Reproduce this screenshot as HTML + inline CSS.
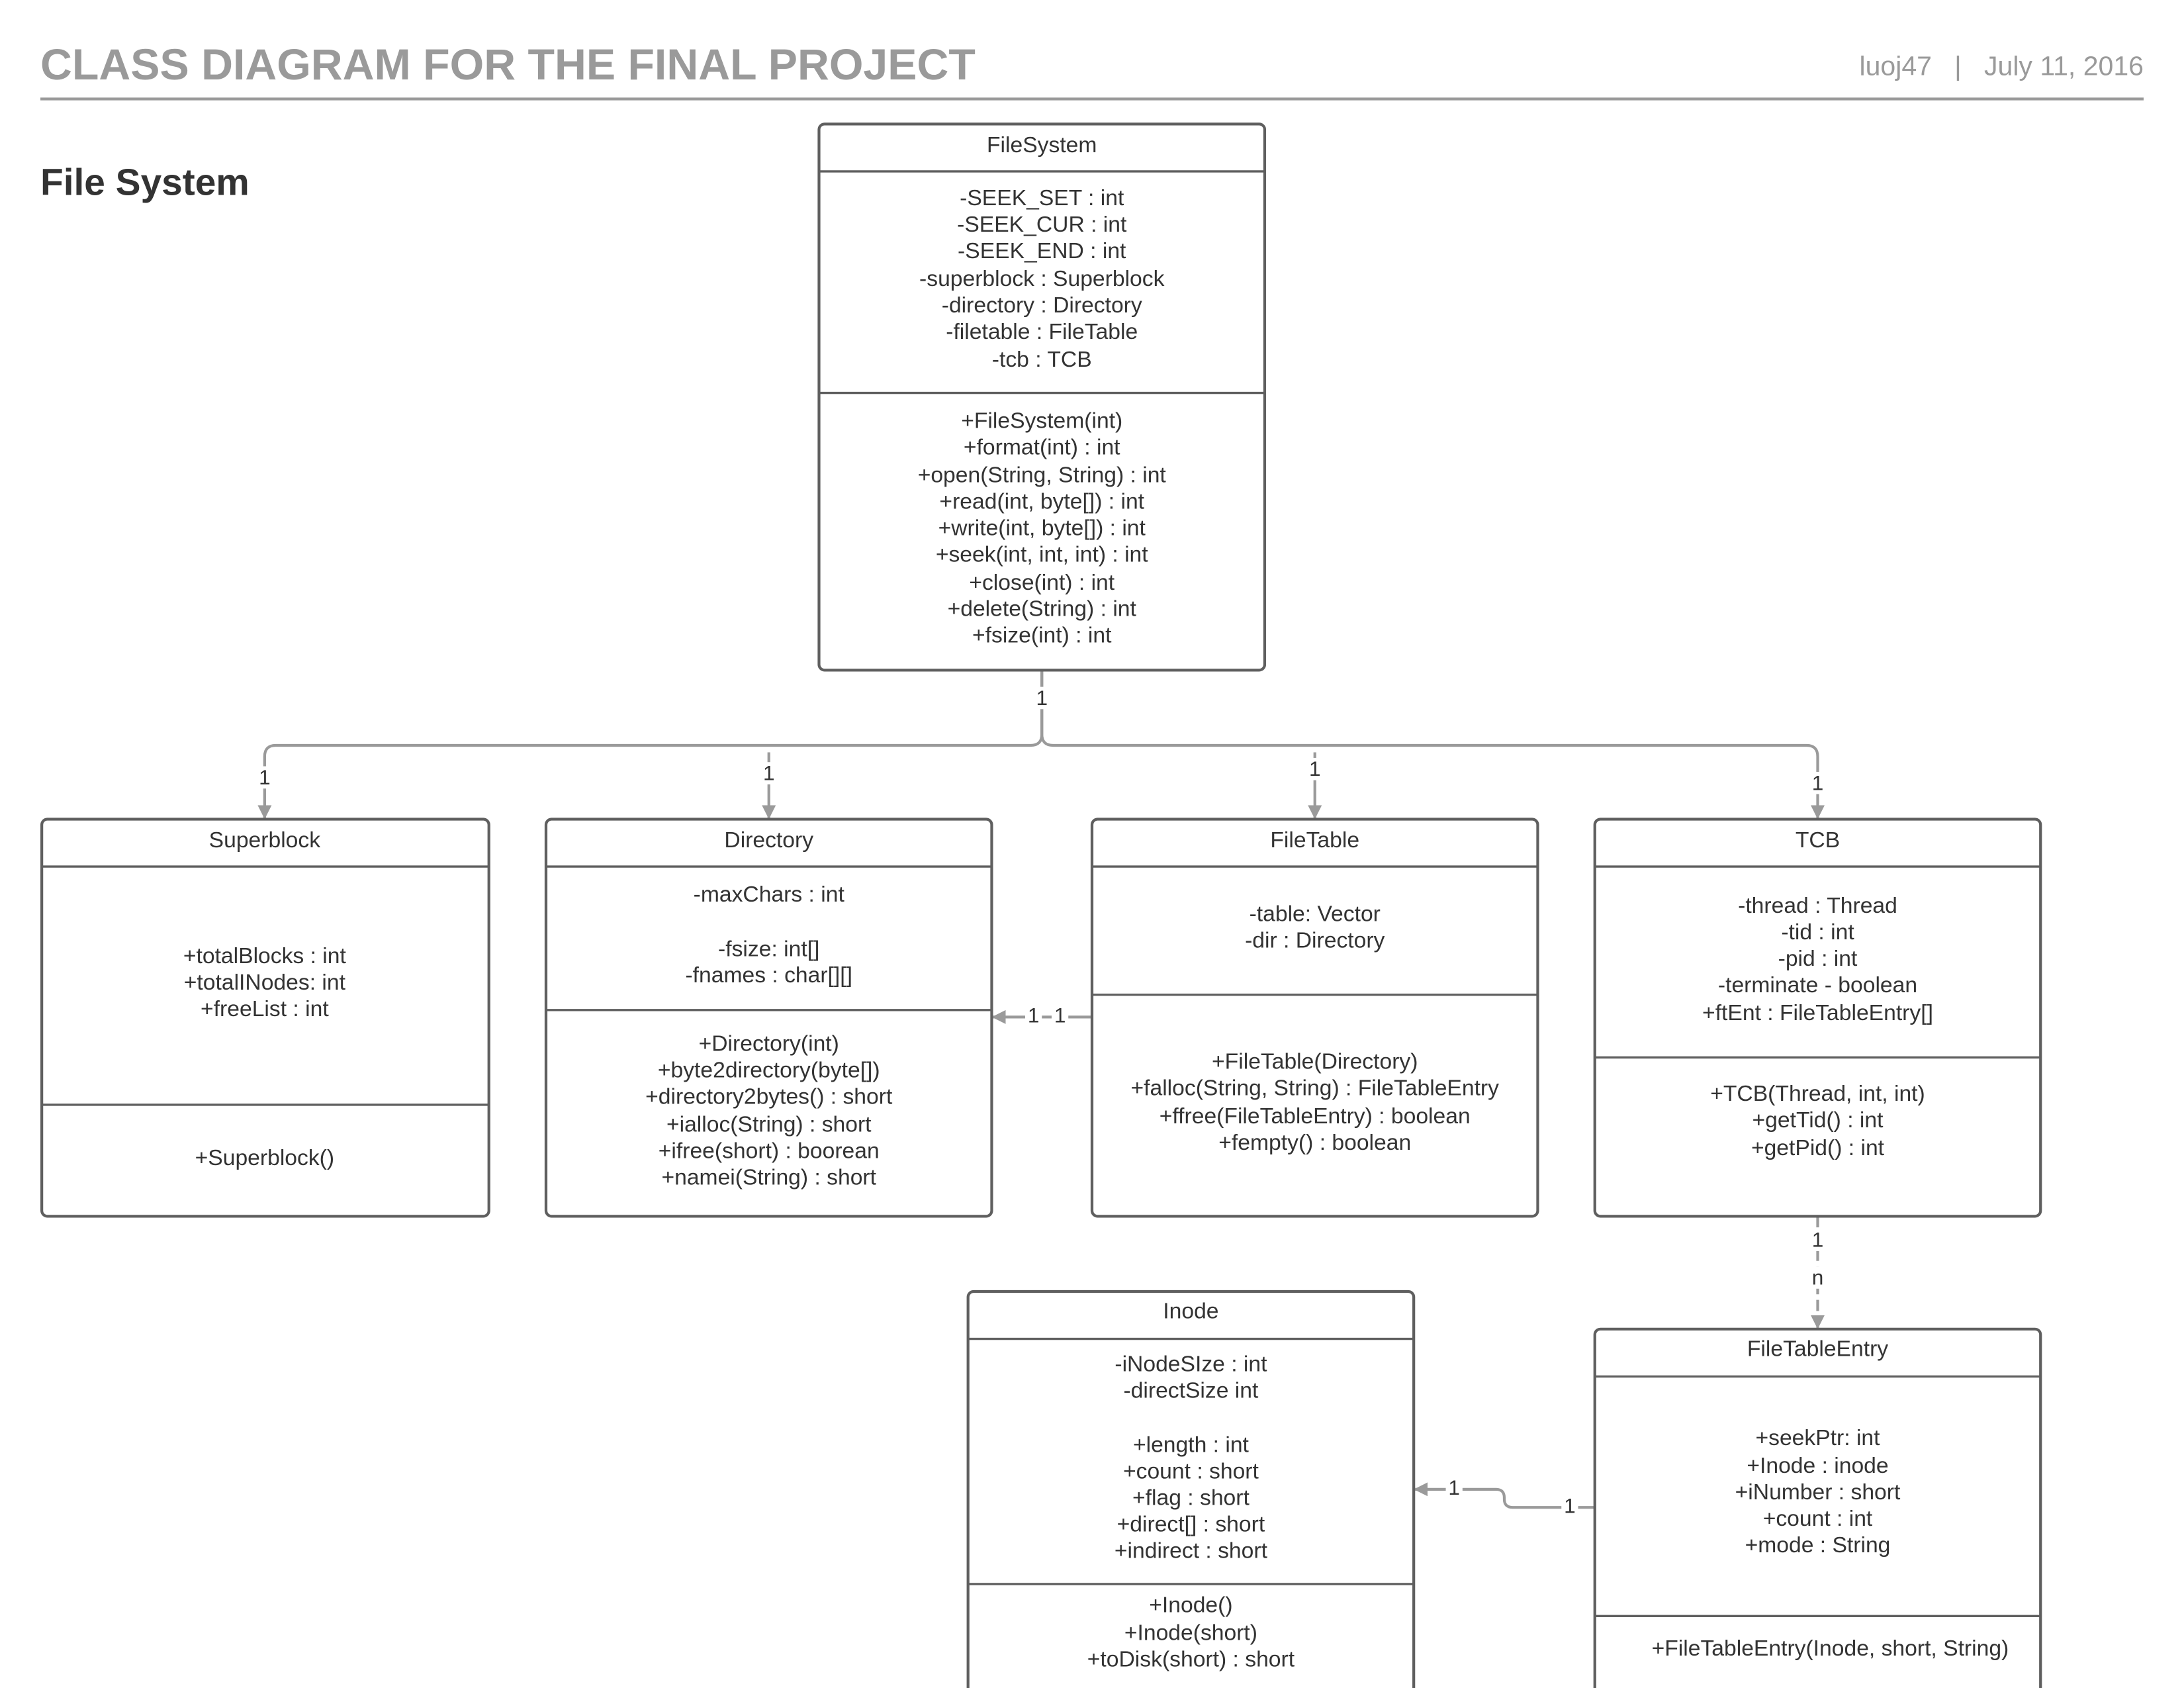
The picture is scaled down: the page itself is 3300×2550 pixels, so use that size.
<!DOCTYPE html>
<html><head><meta charset="utf-8"><style>
html,body{margin:0;padding:0;background:#fff;}
svg{display:block;}
text{font-family:"Liberation Sans",sans-serif;}
.t{font-size:16px;fill:#333;text-anchor:middle;dominant-baseline:middle;}
.b{fill:#fff;stroke:#5f5f5f;stroke-width:2;}
.l{stroke:#5f5f5f;stroke-width:1.6;}
.c{fill:none;stroke:#9a9a9a;stroke-width:2;}
.lab{font-size:15px;fill:#333;text-anchor:middle;dominant-baseline:middle;}
</style></head><body>
<svg width="3300" height="2550" viewBox="0 0 1568 1211.6" xmlns="http://www.w3.org/2000/svg">
<defs><marker id="a" markerWidth="10" markerHeight="10" refX="9" refY="5" orient="auto" markerUnits="userSpaceOnUse"><path d="M0,0 L10,5 L0,10 z" fill="#9a9a9a"/></marker></defs>
<text x="29" y="57" style="font-size:31.5px;font-weight:bold;fill:#9a9a9a;">CLASS DIAGRAM FOR THE FINAL PROJECT</text>
<text x="1539" y="54" style="font-size:19.5px;fill:#9a9a9a;text-anchor:end;">luoj47 &#160;&#160;| &#160;&#160;July 11, 2016</text>
<line x1="29" y1="71" x2="1539" y2="71" stroke="#9a9a9a" stroke-width="2"/>
<text x="29" y="140" style="font-size:27px;font-weight:bold;fill:#333;">File System</text>

<path class="c" d="M748,481 V527 Q748,535 740,535 H198 Q190,535 190,543 V587" marker-end="url(#a)"/>
<path class="c" d="M748,481 V527 Q748,535 756,535 H1297 Q1305,535 1305,543 V587" marker-end="url(#a)"/>
<path class="c" d="M552,540 V587" marker-end="url(#a)"/>
<path class="c" d="M944,540 V587" marker-end="url(#a)"/>
<path class="c" d="M784,730 H713" marker-end="url(#a)"/>
<path class="c" d="M1305,873 V953" stroke-dasharray="8,4" marker-end="url(#a)"/>
<path class="c" d="M1145,1082 H1086 Q1080,1082 1080,1076 V1075 Q1080,1069 1074,1069 H1016" marker-end="url(#a)"/>
<g class="lab">
<rect x="742" y="493" width="12" height="16" fill="#fff"/><text x="748" y="502">1</text>
<rect x="184" y="550" width="12" height="16" fill="#fff"/><text x="190" y="559">1</text>
<rect x="546" y="547" width="12" height="16" fill="#fff"/><text x="552" y="556">1</text>
<rect x="938" y="544" width="12" height="16" fill="#fff"/><text x="944" y="553">1</text>
<rect x="1299" y="554" width="12" height="16" fill="#fff"/><text x="1305" y="563">1</text>
<rect x="736" y="722" width="12" height="16" fill="#fff"/><text x="742" y="730">1</text>
<rect x="755" y="722" width="12" height="16" fill="#fff"/><text x="761" y="730">1</text>
<rect x="1299" y="882" width="12" height="16" fill="#fff"/><text x="1305" y="891">1</text>
<rect x="1299" y="909" width="12" height="16" fill="#fff"/><text x="1305" y="918">n</text>
<rect x="1121" y="1073" width="12" height="16" fill="#fff"/><text x="1127" y="1082">1</text>
<rect x="1038" y="1060" width="12" height="16" fill="#fff"/><text x="1044" y="1069">1</text>
</g>

<rect class="b" x="588" y="89" width="320" height="392" rx="4"/>
<line class="l" x1="588" y1="123" x2="908" y2="123"/><line class="l" x1="588" y1="282" x2="908" y2="282"/>
<g class="t" transform="translate(0,1)">
<text x="748" y="104">FileSystem</text>
<text x="748" y="142">-SEEK_SET : int</text><text x="748" y="161">-SEEK_CUR : int</text><text x="748" y="180">-SEEK_END : int</text>
<text x="748" y="200">-superblock : Superblock</text><text x="748" y="219">-directory : Directory</text><text x="748" y="238">-filetable : FileTable</text><text x="748" y="258">-tcb : TCB</text>
<text x="748" y="302">+FileSystem(int)</text><text x="748" y="321">+format(int) : int</text><text x="748" y="341">+open(String, String) : int</text>
<text x="748" y="360">+read(int, byte[]) : int</text><text x="748" y="379">+write(int, byte[]) : int</text><text x="748" y="398">+seek(int, int, int) : int</text>
<text x="748" y="418">+close(int) : int</text><text x="748" y="437">+delete(String) : int</text><text x="748" y="456">+fsize(int) : int</text>
</g>

<rect class="b" x="30" y="588" width="321" height="285" rx="4"/>
<line class="l" x1="30" y1="622" x2="351" y2="622"/><line class="l" x1="30" y1="793" x2="351" y2="793"/>
<g class="t" transform="translate(0,1)"><text x="190" y="603">Superblock</text>
<text x="190" y="686">+totalBlocks : int</text><text x="190" y="705">+totalINodes: int</text><text x="190" y="724">+freeList : int</text>
<text x="190" y="831">+Superblock()</text></g>

<rect class="b" x="392" y="588" width="320" height="285" rx="4"/>
<line class="l" x1="392" y1="622" x2="712" y2="622"/><line class="l" x1="392" y1="725" x2="712" y2="725"/>
<g class="t" transform="translate(0,1)"><text x="552" y="603">Directory</text>
<text x="552" y="642">-maxChars : int</text><text x="552" y="681">-fsize: int[]</text><text x="552" y="700">-fnames : char[][]</text>
<text x="552" y="749">+Directory(int)</text><text x="552" y="768">+byte2directory(byte[])</text><text x="552" y="787">+directory2bytes() : short</text>
<text x="552" y="807">+ialloc(String) : short</text><text x="552" y="826">+ifree(short) : boorean</text><text x="552" y="845">+namei(String) : short</text></g>

<rect class="b" x="784" y="588" width="320" height="285" rx="4"/>
<line class="l" x1="784" y1="622" x2="1104" y2="622"/><line class="l" x1="784" y1="714" x2="1104" y2="714"/>
<g class="t" transform="translate(0,1)"><text x="944" y="603">FileTable</text>
<text x="944" y="656">-table: Vector</text><text x="944" y="675">-dir : Directory</text>
<text x="944" y="762">+FileTable(Directory)</text><text x="944" y="781">+falloc(String, String) : FileTableEntry</text>
<text x="944" y="801">+ffree(FileTableEntry) : boolean</text><text x="944" y="820">+fempty() : boolean</text></g>

<rect class="b" x="1145" y="588" width="320" height="285" rx="4"/>
<line class="l" x1="1145" y1="622" x2="1465" y2="622"/><line class="l" x1="1145" y1="759" x2="1465" y2="759"/>
<g class="t" transform="translate(0,1)"><text x="1305" y="603">TCB</text>
<text x="1305" y="650">-thread : Thread</text><text x="1305" y="669">-tid : int</text><text x="1305" y="688">-pid : int</text>
<text x="1305" y="707">-terminate - boolean</text><text x="1305" y="727">+ftEnt : FileTableEntry[]</text>
<text x="1305" y="785">+TCB(Thread, int, int)</text><text x="1305" y="804">+getTid() : int</text><text x="1305" y="824">+getPid() : int</text></g>

<rect class="b" x="695" y="927" width="320" height="290" rx="4"/>
<line class="l" x1="695" y1="961" x2="1015" y2="961"/><line class="l" x1="695" y1="1137" x2="1015" y2="1137"/>
<g class="t" transform="translate(0,1)"><text x="855" y="941">Inode</text>
<text x="855" y="979">-iNodeSIze : int</text><text x="855" y="998">-directSize int</text>
<text x="855" y="1037">+length : int</text><text x="855" y="1056">+count : short</text><text x="855" y="1075">+flag : short</text>
<text x="855" y="1094">+direct[] : short</text><text x="855" y="1113">+indirect : short</text>
<text x="855" y="1152">+Inode()</text><text x="855" y="1172">+Inode(short)</text><text x="855" y="1191">+toDisk(short) : short</text></g>

<rect class="b" x="1145" y="954" width="320" height="263" rx="4"/>
<line class="l" x1="1145" y1="988" x2="1465" y2="988"/><line class="l" x1="1145" y1="1160" x2="1465" y2="1160"/>
<g class="t" transform="translate(0,1)"><text x="1305" y="968">FileTableEntry</text>
<text x="1305" y="1032">+seekPtr: int</text><text x="1305" y="1052">+Inode : inode</text><text x="1305" y="1071">+iNumber : short</text>
<text x="1305" y="1090">+count : int</text><text x="1305" y="1109">+mode : String</text>
<text x="1314" y="1183">+FileTableEntry(Inode, short, String)</text></g>
</svg>
</body></html>
